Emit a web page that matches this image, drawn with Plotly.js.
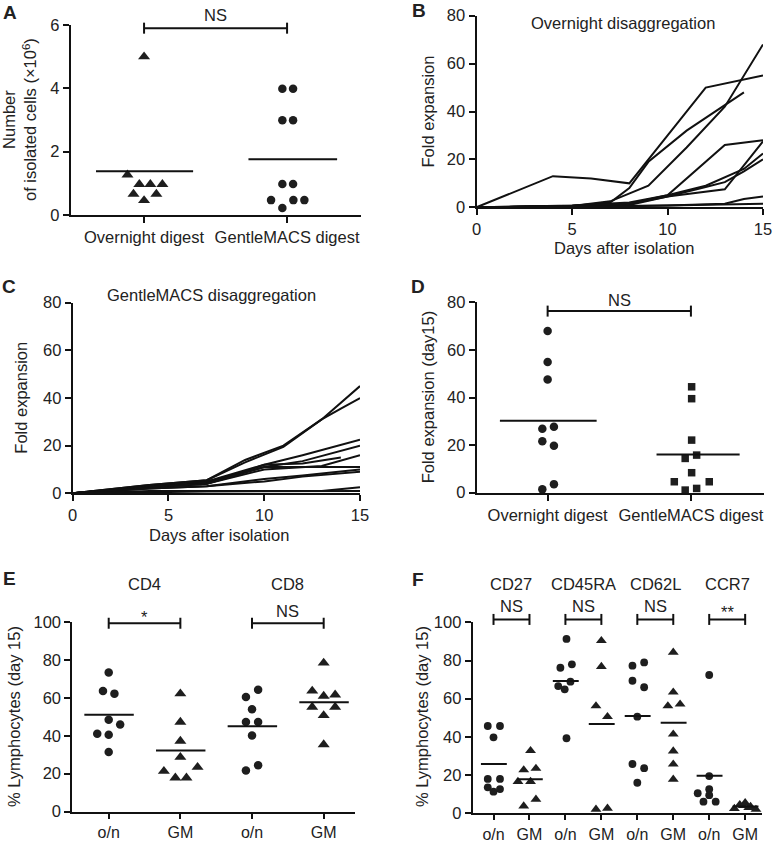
<!DOCTYPE html>
<html><head><meta charset="utf-8">
<script src="https://cdn.plot.ly/plotly-3.0.1.min.js"></script>
<style>html,body{margin:0;padding:0;background:#fff}#chart{width:774px;height:842px}</style>
</head><body><div id="chart"></div>
<script>
// ---------- Panel A: number of isolated cells (x10^6) ----------
const A_categories = ['Overnight digest', 'GentleMACS digest'];
const A_overnight = [5.0, 1.27, 0.97, 0.97, 0.97, 0.66, 0.66, 0.46];
const A_overnight_jitter = [0, -0.116, -0.033, 0.044, 0.128, -0.074, 0.086, 0];
const A_gentle = [3.99, 3.99, 2.99, 2.99, 0.98, 0.98, 0.47, 0.47, 0.47, 0.22];
const A_gentle_jitter = [-0.033, 0.042, -0.033, 0.042, -0.033, 0.042, -0.112, 0.044, 0.121, -0.033];
const A_means = [1.38, 1.76];

// ---------- Panel B: overnight disaggregation, fold expansion ----------
const B_days = [
  [0, 4, 6, 8, 12, 15],
  [0, 5, 7, 8, 9, 11, 14],
  [0, 5, 7, 9, 11, 13, 15],
  [0, 5, 8, 10, 13, 15],
  [0, 5, 8, 10, 13, 15],
  [0, 5, 8, 10, 12, 14, 15],
  [0, 5, 8, 10, 12, 13, 14, 15],
  [0, 5, 8, 10, 13, 14, 15],
  [0, 5, 8, 10, 13, 15]
];
const B_fold = [
  [0, 13, 12, 10, 50, 55],
  [0, 0.5, 2, 8, 19, 32, 48],
  [0, 0.5, 2.5, 9, 25, 42, 68],
  [0, 0.5, 1.5, 5, 26, 28],
  [0, 0.5, 1, 4.5, 7.5, 27.5],
  [0, 0.8, 2, 5, 9, 16, 22.5],
  [0, 0.5, 1.5, 4.5, 8.5, 10.5, 15, 20],
  [0, 0.3, 0.5, 0.8, 1.5, 3.5, 4.5],
  [0, 0.2, 0.4, 0.8, 1.2, 1.5]
];

// ---------- Panel C: GentleMACS disaggregation, fold expansion ----------
const C_days = [
  [0, 4, 7, 9, 11, 13, 15],
  [0, 4, 7, 9, 11, 13, 14, 15],
  [0, 4, 7, 10, 12, 15],
  [0, 4, 7, 10, 12, 15],
  [0, 4, 7, 10, 13, 15],
  [0, 4, 7, 10, 12, 14],
  [0, 4, 7, 10, 15],
  [0, 4, 7, 10, 12, 15],
  [0, 4, 7, 10, 12, 15],
  [0, 4, 7, 13, 15],
  [0, 4, 7, 15]
];
const C_fold = [
  [0, 3.5, 5.5, 14, 20, 31, 45],
  [0, 3.5, 5.5, 13, 19.5, 31, 35.5, 40],
  [0, 3, 5, 12, 16, 22.5],
  [0, 3, 4.5, 11, 13.5, 20],
  [0, 2.5, 4, 10, 11.5, 16],
  [0, 2.5, 4, 12, 12.5, 15],
  [0, 2.5, 4, 11, 11],
  [0, 2, 3, 6, 7.5, 10],
  [0, 2, 3, 5, 7, 9],
  [0, 1, 1, 1, 2.5],
  [0, 0.5, 0.8, 1]
];

// ---------- Panel D: fold expansion day 15 ----------
const D_categories = ['Overnight digest', 'GentleMACS digest'];
const D_overnight = [67.9, 54.9, 47.6, 26.9, 27.7, 21.6, 19.7, 3.6, 1.4];
const D_overnight_jitter = [0, 0, 0, -0.037, 0.044, -0.037, 0.044, 0.044, -0.037];
const D_gentle = [44.5, 39.5, 22.1, 14.4, 15.8, 8.4, 4.6, 4.6, 1.1, 1.8];
const D_gentle_jitter = [0.005, 0.005, 0.005, -0.04, 0.04, 0.005, -0.116, 0.128, -0.04, 0.04];
const D_means = [30.2, 16.1];

// ---------- Panel E: CD4 / CD8 ----------
const E_groups = ['CD4', 'CD8'];
const E_ticks = ['o/n', 'GM', 'o/n', 'GM'];
const E_CD4_on = [73.5, 63.7, 62.3, 48.5, 46.0, 41.1, 40.6, 31.4];
const E_CD4_on_jitter = [0, -0.08, 0.08, 0, 0.16, -0.16, 0, 0];
const E_CD4_gm = [62.3, 47.3, 37.2, 28.7, 21.3, 17.8, 17.8, 23.4];
const E_CD4_gm_jitter = [0, 0, 0, 0, -0.23, -0.07, 0.085, 0.24];
const E_CD8_on = [60.5, 64.4, 54.1, 47.3, 47.3, 40.2, 21.7, 24.5];
const E_CD8_on_jitter = [-0.085, 0.085, 0, -0.085, 0.085, 0, -0.085, 0.085];
const E_CD8_gm = [78.5, 63.7, 61.0, 61.7, 55.2, 55.2, 50.8, 35.4];
const E_CD8_gm_jitter = [0, -0.16, 0, 0.16, -0.16, 0.16, 0, 0];
const E_means = [51.2, 32.3, 45.0, 57.8];
const E_signif = ['*', 'NS'];

// ---------- Panel F: CD27 / CD45RA / CD62L / CCR7 ----------
const F_groups = ['CD27', 'CD45RA', 'CD62L', 'CCR7'];
const F_ticks = ['o/n', 'GM', 'o/n', 'GM', 'o/n', 'GM', 'o/n', 'GM'];
const F_CD27_on = [45.7, 45.7, 39.8, 18.0, 18.0, 13.6, 11.3, 12.7];
const F_CD27_on_jitter = [-0.16, 0.18, 0, -0.16, 0.18, -0.16, 0, 0.18];
const F_CD27_gm = [32.8, 22.7, 23.5, 16.6, 16.6, 7.3, 3.8];
const F_CD27_gm_jitter = [0.03, -0.16, 0.18, -0.32, 0.03, 0.18, -0.16];
const F_CD45RA_on = [91.3, 78.0, 76.2, 68.9, 66.6, 64.9, 39.3];
const F_CD45RA_on_jitter = [0.03, 0.18, -0.14, 0.14, -0.2, -0.02, 0.03];
const F_CD45RA_gm = [90.4, 76.8, 56.2, 50.6, 2.1, 2.6];
const F_CD45RA_gm_jitter = [0, 0, -0.15, 0.17, -0.15, 0.17];
const F_CD62L_on = [77.3, 79.0, 69.4, 66.0, 50.6, 25.8, 23.6, 16.0];
const F_CD62L_on_jitter = [-0.135, 0.19, -0.135, 0.19, 0, -0.135, 0.19, 0];
const F_CD62L_gm = [84.3, 63.4, 56.2, 57.1, 41.4, 32.6, 25.7, 17.8];
const F_CD62L_gm_jitter = [0, 0, -0.15, 0.19, 0, 0, 0, 0];
const F_CCR7_on = [72.4, 19.5, 12.6, 10.5, 9.5, 6.1, 6.1];
const F_CCR7_on_jitter = [0, 0, 0, -0.32, 0, -0.16, 0.18];
const F_CCR7_gm = [5.5, 4.5, 3.5, 2.5, 2, 3, 4];
const F_CCR7_gm_jitter = [0, -0.15, 0.15, -0.3, 0.3, 0.1, -0.05];
const F_means = [25.8, 17.8, 69.3, 46.8, 50.9, 47.4, 19.7, 3.5];
const F_signif = ['NS', 'NS', 'NS', '**'];

// ---------- layout helpers ----------
const W = 774, H = 842;
const FONT = 'Liberation Sans, Arial, Helvetica, sans-serif';
const INK = '#111';
const TXT = '#222';
const px = x => x / W;
const py = y => 1 - y / H;

const base = {
  showline: true, linecolor: INK, linewidth: 2, mirror: false,
  ticks: 'outside', ticklen: 6, tickwidth: 2, tickcolor: INK,
  showgrid: false, zeroline: false, fixedrange: true, tickangle: 0,
  tickfont: {family: FONT, size: 16.5, color: TXT}
};
const ax = o => Object.assign({}, base, o);
const bottomTicks = {ticklen: 5, tickfont: {family: FONT, size: 16, color: TXT}};

const X = {
  A: ax({domain: [px(70.7), px(361)], range: [-0.513, 1.517], tickvals: [0, 1], ticktext: A_categories, anchor: 'y'}),
  B: ax({domain: [px(476.5), px(763)], range: [0, 15], tickvals: [0, 5, 10, 15], anchor: 'y2'}),
  C: ax({domain: [px(72.7), px(360)], range: [0, 15], tickvals: [0, 5, 10, 15], anchor: 'y3'}),
  D: ax({domain: [px(476.7), px(764)], range: [-0.495, 1.51], tickvals: [0, 1], ticktext: D_categories, anchor: 'y4'}),
  E: ax(Object.assign({domain: [px(72.3), px(355)], range: [-0.508, 3.437], tickvals: [0, 1, 2, 3], ticktext: E_ticks, anchor: 'y5'}, bottomTicks)),
  F: ax(Object.assign({domain: [px(472.7), px(761.7)], range: [-0.579, 7.46], tickvals: [0, 1, 2, 3, 4, 5, 6, 7], ticktext: F_ticks, anchor: 'y6'}, bottomTicks))
};
const Y = {
  A: ax({domain: [py(215), py(25)], range: [0, 6], tick0: 0, dtick: 2, anchor: 'x'}),
  B: ax({domain: [py(207.3), py(15.7)], range: [0, 80], tick0: 0, dtick: 20, anchor: 'x2'}),
  C: ax({domain: [py(493.3), py(302.7)], range: [0, 80], tick0: 0, dtick: 20, anchor: 'x3'}),
  D: ax({domain: [py(492.7), py(302.3)], range: [0, 80], tick0: 0, dtick: 20, anchor: 'x4'}),
  E: ax({domain: [py(811.5), py(622.3)], range: [0, 100], tick0: 0, dtick: 20, anchor: 'x5'}),
  F: ax({domain: [py(813.3), py(622.3)], range: [0, 100], tick0: 0, dtick: 20, anchor: 'x6'})
};
const REF = {A: ['x', 'y'], B: ['x2', 'y2'], C: ['x3', 'y3'], D: ['x4', 'y4'], E: ['x5', 'y5'], F: ['x6', 'y6']};

const xPaper = (p, v) => X[p].domain[0] + (v - X[p].range[0]) / (X[p].range[1] - X[p].range[0]) * (X[p].domain[1] - X[p].domain[0]);
const yPaper = (p, v) => Y[p].domain[0] + (v - Y[p].range[0]) / (Y[p].range[1] - Y[p].range[0]) * (Y[p].domain[1] - Y[p].domain[0]);

const traces = [];
function dots(p, cat, vals, jit, symbol, size) {
  traces.push({
    type: 'scatter', mode: 'markers', xaxis: REF[p][0], yaxis: REF[p][1],
    x: vals.map((v, i) => cat + jit[i]), y: vals, cliponaxis: false,
    marker: {symbol: symbol, size: size, color: '#1e1e1e', line: {width: 0}},
    hoverinfo: 'skip'
  });
}
function meanLine(p, cat, m, lw, rw) {
  traces.push({
    type: 'scatter', mode: 'lines', xaxis: REF[p][0], yaxis: REF[p][1],
    x: [cat - lw, cat + rw], y: [m, m], line: {color: INK, width: 2}, hoverinfo: 'skip'
  });
}
function curves(p, daysList, foldList) {
  foldList.forEach((vals, i) => traces.push({
    type: 'scatter', mode: 'lines', xaxis: REF[p][0], yaxis: REF[p][1],
    x: daysList[i], y: vals, line: {color: INK, width: 2}, hoverinfo: 'skip', cliponaxis: false
  }));
}

// Panel A
dots('A', 0, A_overnight, A_overnight_jitter, 'triangle-up', 10.5);
dots('A', 1, A_gentle, A_gentle_jitter, 'circle', 8.5);
meanLine('A', 0, A_means[0], 0.336, 0.343);
meanLine('A', 1, A_means[1], 0.27, 0.35);
// Panel B, C
curves('B', B_days, B_fold);
curves('C', C_days, C_fold);
// Panel D
dots('D', 0, D_overnight, D_overnight_jitter, 'circle', 8.5);
dots('D', 1, D_gentle, D_gentle_jitter, 'square', 7.5);
meanLine('D', 0, D_means[0], 0.333, 0.342);
meanLine('D', 1, D_means[1], 0.24, 0.34);
// Panel E
dots('E', 0, E_CD4_on, E_CD4_on_jitter, 'circle', 8.5);
dots('E', 1, E_CD4_gm, E_CD4_gm_jitter, 'triangle-up', 10.5);
dots('E', 2, E_CD8_on, E_CD8_on_jitter, 'circle', 8.5);
dots('E', 3, E_CD8_gm, E_CD8_gm_jitter, 'triangle-up', 10.5);
E_means.forEach((m, i) => meanLine('E', i, m, 0.34, 0.35));
// Panel F
const F_on = [[F_CD27_on, F_CD27_on_jitter], [F_CD45RA_on, F_CD45RA_on_jitter], [F_CD62L_on, F_CD62L_on_jitter], [F_CCR7_on, F_CCR7_on_jitter]];
const F_gm = [[F_CD27_gm, F_CD27_gm_jitter], [F_CD45RA_gm, F_CD45RA_gm_jitter], [F_CD62L_gm, F_CD62L_gm_jitter], [F_CCR7_gm, F_CCR7_gm_jitter]];
F_on.forEach((g, i) => dots('F', 2 * i, g[0], g[1], 'circle', 7.8));
F_gm.forEach((g, i) => dots('F', 2 * i + 1, g[0], g[1], 'triangle-up', 9.5));
F_means.forEach((m, i) => meanLine('F', i, m, 0.35, 0.37));

// ---------- brackets, labels ----------
const shapes = [];
const annotations = [];
const ENDH = 5.5 / H;
function bracket(p, a, b, yv, label, shiftPx) {
  const x0 = xPaper(p, a), x1 = xPaper(p, b), y = yPaper(p, yv);
  const ln = {color: INK, width: 2};
  shapes.push({type: 'line', xref: 'paper', yref: 'paper', x0: x0, x1: x1, y0: y, y1: y, line: ln});
  shapes.push({type: 'line', xref: 'paper', yref: 'paper', x0: x0, x1: x0, y0: y - ENDH, y1: y + ENDH, line: ln});
  shapes.push({type: 'line', xref: 'paper', yref: 'paper', x0: x1, x1: x1, y0: y - ENDH, y1: y + ENDH, line: ln});
  annotations.push({xref: 'paper', yref: 'paper', x: (x0 + x1) / 2, y: y, yshift: shiftPx,
    text: label, showarrow: false, xanchor: 'center', yanchor: 'middle',
    font: {family: FONT, size: 16.5, color: TXT}});
}
bracket('A', 0, 1, 5.9, 'NS', 13);
bracket('D', 0, 1, 76.3, 'NS', 11);
bracket('E', 0, 1, 99.5, E_signif[0], 6);
bracket('E', 2, 3, 99.5, E_signif[1], 12);
F_signif.forEach((s, i) => bracket('F', 2 * i, 2 * i + 1, 101.5, s, s === 'NS' ? 13 : 7));

function label(text, xPx, yPx, size, angle) {
  annotations.push({xref: 'paper', yref: 'paper', x: px(xPx), y: py(yPx), text: text,
    showarrow: false, xanchor: 'center', yanchor: 'middle', textangle: angle || 0,
    font: {family: FONT, size: size, color: TXT}});
}
// group titles
E_groups.forEach((g, i) => annotations.push({xref: 'x5', yref: 'paper', x: 2 * i + 0.5, y: py(583.5), text: g,
  showarrow: false, xanchor: 'center', yanchor: 'middle', font: {family: FONT, size: 16.5, color: TXT}}));
F_groups.forEach((g, i) => annotations.push({xref: 'x6', yref: 'paper', x: 2 * i + 0.5, y: py(584), text: g,
  showarrow: false, xanchor: 'center', yanchor: 'middle', font: {family: FONT, size: 16.5, color: TXT}}));

// panel titles and axis titles
label('Overnight disaggregation', 623, 22.7, 16.5);
label('GentleMACS disaggregation', 211, 295, 16.5);
label('Days after isolation', 624, 248, 16.5);
label('Days after isolation', 219, 535, 16.5);
label('Number<br>of isolated cells (×10<sup>6</sup>)', 19, 120, 16.5, -90);
label('Fold expansion', 428, 111.5, 16.5, -90);
label('Fold expansion', 20.7, 398, 16.5, -90);
label('Fold expansion (day15)', 428.3, 397, 16.5, -90);
label('% Lymphocytes (day 15)', 14, 717, 16.5, -90);
label('% Lymphocytes (day 15)', 422, 717, 16.5, -90);
// panel letters
[['A', 9.5, 12.5], ['B', 419, 10], ['C', 8.5, 286], ['D', 418.5, 286.5], ['E', 9, 578.5], ['F', 418, 579]]
  .forEach(l => label('<b>' + l[0] + '</b>', l[1], l[2], 19));

const layout = {
  width: W, height: H, margin: {l: 0, r: 0, t: 0, b: 0},
  paper_bgcolor: '#fff', plot_bgcolor: 'rgba(0,0,0,0)', showlegend: false,
  font: {family: FONT, color: TXT},
  xaxis: X.A, yaxis: Y.A, xaxis2: X.B, yaxis2: Y.B, xaxis3: X.C, yaxis3: Y.C,
  xaxis4: X.D, yaxis4: Y.D, xaxis5: X.E, yaxis5: Y.E, xaxis6: X.F, yaxis6: Y.F,
  shapes: shapes, annotations: annotations
};
Plotly.newPlot('chart', traces, layout, {displayModeBar: false, staticPlot: true});
</script></body></html>
